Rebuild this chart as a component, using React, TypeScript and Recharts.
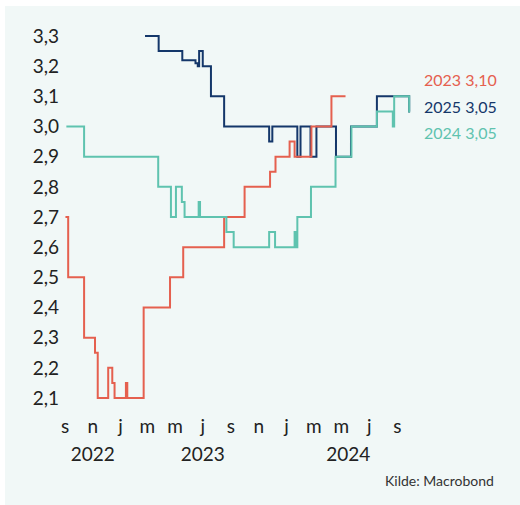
import { Line, LineChart, XAxis, YAxis } from 'recharts';

// policy rate expectations (forwards) per year, step series
const series2023Dates = [
  '2022-09-02', '2022-09-08', '2022-10-13', '2022-11-06', '2022-11-12', '2022-12-05',
  '2022-12-14', '2022-12-19', '2023-01-13', '2023-01-16', '2023-02-21', '2023-04-20',
  '2023-05-19', '2023-08-17', '2023-10-01', '2023-11-26', '2023-12-08', '2024-01-08',
  '2024-01-19', '2024-02-25', '2024-04-09', '2024-05-10',
];
const series2023Values = [
  2.7, 2.5, 2.3, 2.25, 2.1, 2.2,
  2.15, 2.1, 2.15, 2.1, 2.4, 2.5,
  2.6, 2.7, 2.8, 2.85, 2.9, 2.95,
  2.9, 3.0, 3.1, 3.1,
];

const series2025Dates = [
  '2023-02-24', '2023-03-26', '2023-05-17', '2023-06-15', '2023-06-20', '2023-06-23',
  '2023-07-01', '2023-07-19', '2023-08-17', '2023-11-24', '2023-12-01', '2024-01-25',
  '2024-02-01', '2024-02-23', '2024-03-07', '2024-04-19', '2024-05-22', '2024-07-18',
  '2024-09-27', '2024-09-29',
];
const series2025Values = [
  3.3, 3.25, 3.22, 3.21, 3.2, 3.25,
  3.2, 3.1, 3.0, 2.95, 3.0, 2.9,
  3.0, 2.9, 3.0, 2.9, 3.0, 3.1,
  3.05, 3.05,
];

const series2024Dates = [
  '2022-09-04', '2022-10-13', '2023-03-25', '2023-04-22', '2023-05-03', '2023-05-16',
  '2023-05-22', '2023-06-22', '2023-06-25', '2023-08-22', '2023-09-07', '2023-11-24',
  '2023-12-07', '2024-01-19', '2024-01-21', '2024-01-25', '2024-02-24', '2024-04-18',
  '2024-05-23', '2024-07-18', '2024-08-22', '2024-08-25', '2024-09-27', '2024-09-29',
];
const series2024Values = [
  3.0, 2.9, 2.8, 2.7, 2.8, 2.75,
  2.7, 2.75, 2.7, 2.65, 2.6, 2.65,
  2.6, 2.65, 2.6, 2.7, 2.8, 2.9,
  3.0, 3.05, 3.0, 3.1, 3.05, 3.05,
];

const monthTicks = [
  '2022-09-01', '2022-11-01', '2023-01-01', '2023-03-01', '2023-05-01', '2023-07-01',
  '2023-09-01', '2023-11-01', '2024-01-01', '2024-03-01', '2024-05-01', '2024-07-01',
  '2024-09-01',
];
const monthLetters = ['j', 'f', 'm', 'a', 'm', 'j', 'j', 'a', 's', 'o', 'n', 'd'];
const yearTicks = ['2022-11-01', '2023-07-01', '2024-05-16'];
const yearLabels = ['2022', '2023', '2024'];
const yTicks = [2.1, 2.2, 2.3, 2.4, 2.5, 2.6, 2.7, 2.8, 2.9, 3.0, 3.1, 3.2, 3.3];

const RED = '#e5604f';
const NAVY = '#14376a';
const TEAL = '#5fc3af';
const FONT = 'Lato, "Open Sans", sans-serif';

const toTime = (d: string) => new Date(d + 'T00:00:00Z').getTime();
const build = (dates: string[], values: number[]) =>
  dates.map((d, i) => ({ t: toTime(d), v: values[i] }));

const data2023 = build(series2023Dates, series2023Values);
const data2025 = build(series2025Dates, series2025Values);
const data2024 = build(series2024Dates, series2024Values);
const yearTickTimes = yearTicks.map(toTime);

const fmt = (v: number, digits: number) => v.toFixed(digits).replace('.', ',');

const endLabels = [
  { name: '2023', value: series2023Values[series2023Values.length - 1], color: RED },
  { name: '2025', value: series2025Values[series2025Values.length - 1], color: NAVY },
  { name: '2024', value: series2024Values[series2024Values.length - 1], color: TEAL },
];

export default function App() {
  const domain = [toTime('2022-09-01'), toTime('2024-10-01')];
  const tickStyle = { fill: '#222', fontSize: 19, fontFamily: FONT };

  return (
    <div style={{ position: 'absolute', left: 0, top: 0, width: 520, height: 505, background: '#fff', overflow: 'hidden' }}>
      <div style={{ position: 'absolute', left: 5, top: 6, width: 515, height: 499, background: '#f1f8f7' }}>
        <LineChart width={515} height={499} margin={{ top: 30, right: 109, left: 0, bottom: 47 }}>
          <XAxis
            xAxisId="m"
            type="number"
            dataKey="t"
            domain={domain}
            allowDataOverflow
            ticks={monthTicks.map(toTime)}
            tickFormatter={(t: number) => monthLetters[new Date(t).getUTCMonth()]}
            axisLine={false}
            tickLine={false}
            tickSize={0}
            tickMargin={22}
            height={30}
            interval={0}
            tick={tickStyle}
          />
          <XAxis
            xAxisId="y"
            type="number"
            dataKey="t"
            domain={domain}
            allowDataOverflow
            ticks={yearTickTimes}
            tickFormatter={(t: number) => yearLabels[yearTickTimes.indexOf(t)]}
            axisLine={false}
            tickLine={false}
            tickSize={0}
            tickMargin={20}
            height={30}
            interval={0}
            tick={tickStyle}
          />
          <YAxis
            type="number"
            domain={[2.1, 3.3]}
            ticks={yTicks}
            tickFormatter={(v: number) => fmt(v, 1)}
            axisLine={false}
            tickLine={false}
            tickSize={0}
            tickMargin={6}
            width={60}
            interval={0}
            tick={tickStyle}
          />
          <Line xAxisId="m" data={data2025} dataKey="v" type="stepAfter" stroke={NAVY} strokeWidth={2} dot={false} activeDot={false} isAnimationActive={false} />
          <Line xAxisId="m" data={data2023} dataKey="v" type="stepAfter" stroke={RED} strokeWidth={2} dot={false} activeDot={false} isAnimationActive={false} />
          <Line xAxisId="y" data={data2024} dataKey="v" type="stepAfter" stroke={TEAL} strokeWidth={2} dot={false} activeDot={false} isAnimationActive={false} />
        </LineChart>
        {endLabels.map((l, i) => (
          <div
            key={l.name}
            style={{ position: 'absolute', left: 419, top: 64 + i * 26.5, color: l.color, fontFamily: FONT, fontSize: 16, lineHeight: '20px', whiteSpace: 'nowrap' }}
          >
            {l.name} {fmt(l.value, 2)}
          </div>
        ))}
        <div style={{ position: 'absolute', left: 380, top: 466, color: '#333', fontFamily: FONT, fontSize: 14, whiteSpace: 'nowrap' }}>
          Kilde: Macrobond
        </div>
      </div>
    </div>
  );
}
